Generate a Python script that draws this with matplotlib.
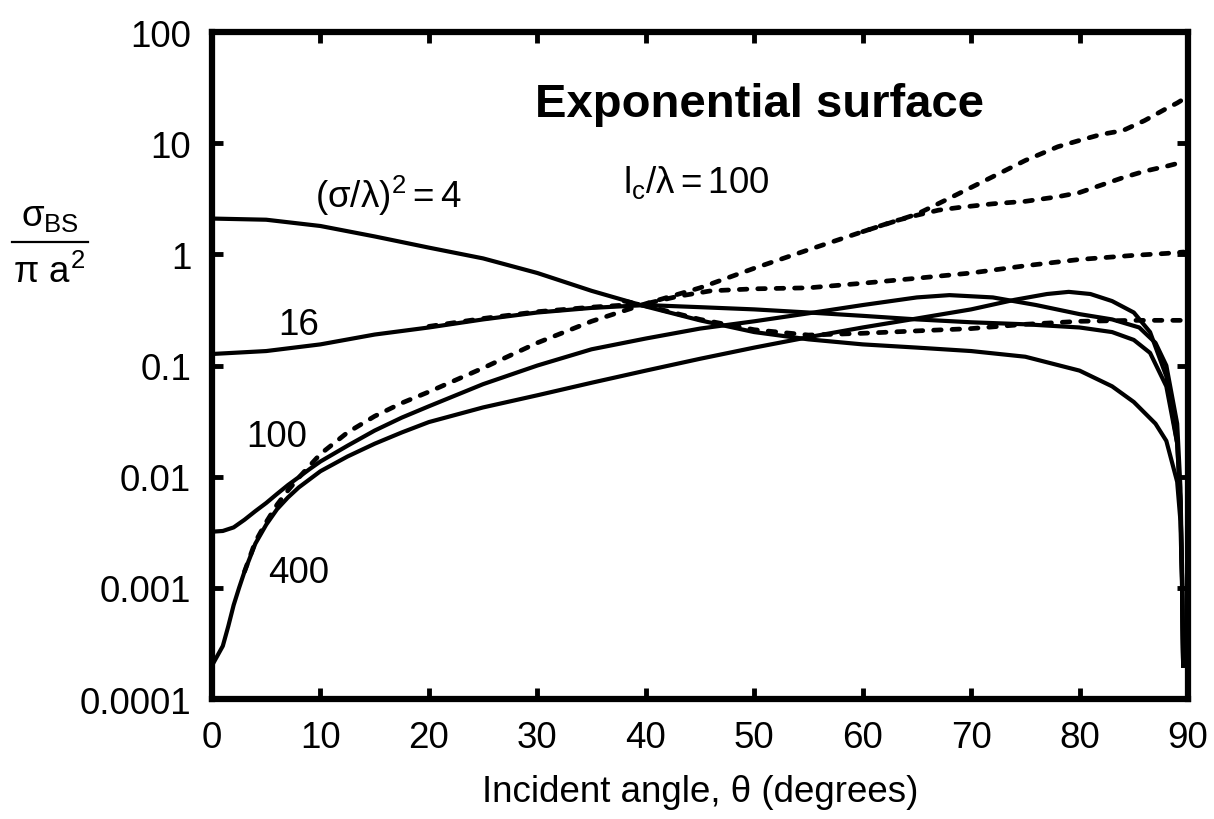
import matplotlib
matplotlib.use("Agg")
import matplotlib.pyplot as plt
from matplotlib.lines import Line2D

plt.rcParams['font.family'] = ['Liberation Sans', 'DejaVu Sans']
plt.rcParams['mathtext.fontset'] = 'custom'
plt.rcParams['mathtext.rm'] = 'Liberation Sans'
plt.rcParams['mathtext.it'] = 'Liberation Sans'
plt.rcParams['mathtext.bf'] = 'Liberation Sans:bold'

# solid curves, (sigma/lambda)^2 = 4, 16, 100, 400
ang_4 = [0, 5, 10, 15, 20, 25, 30, 35, 40, 45, 50, 55, 60, 65, 70, 75, 80, 83, 85, 87, 88, 89, 89.3, 89.45, 89.55]
val_4 = [2.1, 2.05, 1.8, 1.45, 1.15, 0.92, 0.68, 0.47, 0.34, 0.255, 0.2, 0.172, 0.155, 0.145, 0.135, 0.12,
         0.09, 0.065, 0.047, 0.03, 0.021, 0.009, 0.004, 0.001, 0.0002]

ang_16 = [0, 5, 10, 15, 20, 25, 30, 35, 40, 45, 50, 55, 60, 65, 70, 75, 80, 83, 85, 86.5, 88, 89, 89.3, 89.45, 89.55]
val_16 = [0.127, 0.135, 0.155, 0.19, 0.22, 0.26, 0.3, 0.33, 0.35, 0.335, 0.32, 0.3, 0.28, 0.26, 0.245, 0.235,
          0.22, 0.2, 0.17, 0.13, 0.065, 0.02, 0.006, 0.0012, 0.0002]

ang_100 = [0, 1, 2, 3, 4, 5, 6, 7, 8, 9, 10, 12.5, 15, 17.5, 20, 25, 30, 35, 40, 45, 50, 55, 60, 65, 68, 72,
           76, 80, 83, 85.5, 87, 88, 89, 89.3, 89.45, 89.55]
val_100 = [0.0032, 0.00325, 0.0035, 0.0041, 0.0049, 0.0058, 0.007, 0.0084, 0.0099, 0.0117, 0.0137, 0.019,
           0.026, 0.034, 0.043, 0.068, 0.1, 0.14, 0.175, 0.215, 0.25, 0.295, 0.35, 0.41, 0.43, 0.41, 0.35,
           0.29, 0.26, 0.22, 0.16, 0.1, 0.03, 0.008, 0.0015, 0.0002]

ang_400 = [0, 1, 1.5, 2, 2.5, 3, 4, 5, 6, 7, 8, 10, 12.5, 15, 17.5, 20, 25, 30, 35, 40, 45, 50, 55, 60, 65,
           70, 74, 77, 79, 81, 83, 85, 86.5, 88, 89, 89.3, 89.45, 89.55]
val_400 = [0.0002, 0.0003, 0.00045, 0.0007, 0.001, 0.0014, 0.0025, 0.0037, 0.0051, 0.0065, 0.008, 0.0112,
           0.0152, 0.0198, 0.025, 0.031, 0.042, 0.054, 0.07, 0.09, 0.115, 0.145, 0.18, 0.22, 0.265, 0.32,
           0.39, 0.44, 0.46, 0.44, 0.38, 0.3, 0.2, 0.08, 0.02, 0.006, 0.0012, 0.0002]

# dashed curves (only where they leave the solid ones)
dang_400 = [3, 4, 5, 6, 7, 8, 10, 12.5, 15, 17.5, 20, 25, 30, 35, 40, 45, 50, 55, 60, 65, 68, 72,
            75, 78, 80, 82, 84, 86, 88, 89, 89.6]
dval_400 = [0.0014, 0.0026, 0.0039, 0.0056, 0.0075, 0.0098, 0.016, 0.025, 0.035, 0.046, 0.058, 0.095, 0.16,
            0.25, 0.36, 0.5, 0.75, 1.1, 1.6, 2.3, 3.2, 5.0, 7.0, 9.3, 10.6, 12.0, 13.0, 16.0, 20.5, 23.0, 25.0]

dang_100 = [60, 63, 65, 67, 69, 72, 75, 78, 80, 82, 84, 86, 88, 89.6]
dval_100 = [1.6, 2.0, 2.25, 2.5, 2.65, 2.85, 3.0, 3.3, 3.6, 4.2, 4.9, 5.6, 6.2, 6.8]

dang_16 = [20, 25, 30, 35, 40, 43, 46, 50, 55, 60, 65, 70, 75, 80, 85, 88, 89.6]
dval_16 = [0.225, 0.265, 0.305, 0.335, 0.36, 0.42, 0.47, 0.49, 0.5, 0.55, 0.61, 0.68, 0.79, 0.9, 0.98,
           1.02, 1.05]

dang_4 = [38, 40, 45, 50, 55, 60, 65, 70, 75, 80, 85, 89.6]
dval_4 = [0.38, 0.345, 0.26, 0.21, 0.188, 0.195, 0.205, 0.215, 0.235, 0.25, 0.255, 0.255]

xticks = [0, 10, 20, 30, 40, 50, 60, 70, 80, 90]
yticks = [0.0001, 0.001, 0.01, 0.1, 1, 10, 100]
ytick_labels = ['0.0001', '0.001', '0.01', '0.1', '1', '10', '100']

fig = plt.figure(figsize=(12.14, 8.2), dpi=100)
ax = fig.add_axes([0.1746, 0.1463, 0.8040, 0.8134])

dash = dict(color='black', lw=3.4, linestyle=(0, (1.6, 2.3)), dash_capstyle='round')
for a, v in [(dang_400, dval_400), (dang_100, dval_100), (dang_16, dval_16), (dang_4, dval_4)]:
    ax.plot(a, v, **dash)

for a, v in [(ang_4, val_4), (ang_16, val_16), (ang_100, val_100), (ang_400, val_400)]:
    ax.plot(a, v, color='black', lw=3.0, solid_joinstyle='round')

ax.set_yscale('log')
ax.set_xlim(0, 90)
ax.set_ylim(0.0001, 100)
ax.set_xticks(xticks)
ax.set_yticks(yticks, labels=ytick_labels)
ax.minorticks_off()
ax.tick_params(direction='in', top=True, right=True, length=8, width=3.5, labelsize=26.5, pad=15)
for s in ax.spines.values():
    s.set_linewidth(4.5)

ax.set_xlabel('Incident angle, θ (degrees)', fontsize=26.5, labelpad=14)

ax.text(29.8, 17.5, 'Exponential surface', fontsize=34, fontweight='bold', va='baseline')
ax.text(37.9, 3.64, r'$\mathrm{l}_\mathrm{c}/\lambda = 100$', fontsize=26.5, va='baseline')
ax.text(9.5, 2.67, r'$(\sigma/\lambda)^2 = 4$', fontsize=26.5, va='baseline')
ax.text(6.1, 0.192, '16', fontsize=26.5, va='baseline')
ax.text(3.2, 0.0189, '100', fontsize=26.5, va='baseline')
ax.text(5.2, 0.00113, '400', fontsize=26.5, va='baseline')

# y label as a fraction
fig.text(0.041, 0.7244, r'$\sigma_\mathrm{BS}$', fontsize=26.5, ha='center', va='baseline')
fig.text(0.041, 0.6549, r'$\pi\ a^2$', fontsize=26.5, ha='center', va='baseline')
fig.add_artist(Line2D([0.0099, 0.0725], [0.7037, 0.7037], color='black', lw=1.6))

plt.savefig('out.png', dpi=100)
